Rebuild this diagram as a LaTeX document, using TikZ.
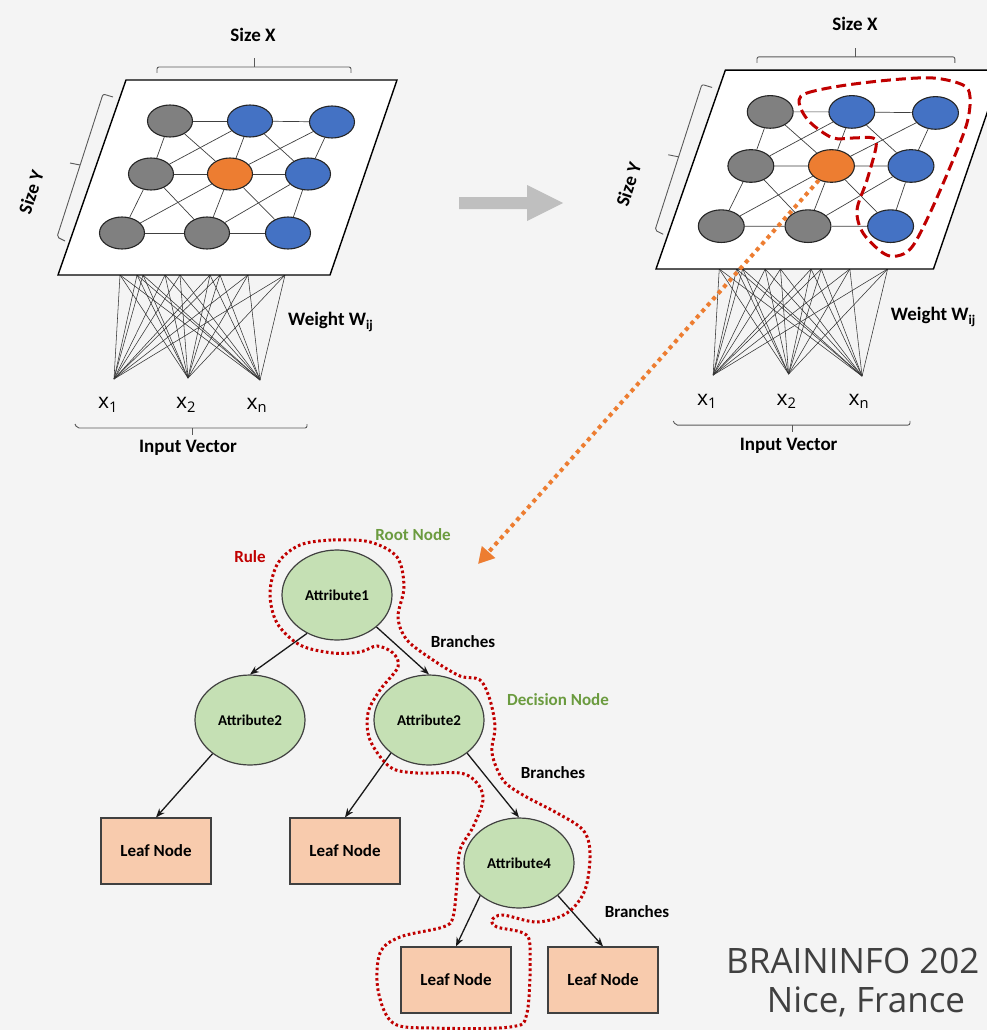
\documentclass[tikz,border=0pt]{standalone}
\usepackage{fontspec}
\setmainfont{Carlito}
\newfontfamily\segoe{Open Sans}
\usetikzlibrary{shapes.geometric,arrows.meta}
\definecolor{bgc}{HTML}{F4F4F4}
\definecolor{ngray}{HTML}{808080}
\definecolor{nblue}{HTML}{4472C4}
\definecolor{norange}{HTML}{ED7D31}
\definecolor{ngreen}{HTML}{C5E0B4}
\definecolor{nleaf}{HTML}{F8CBAD}
\definecolor{dred}{HTML}{C00000}
\definecolor{tgreen}{HTML}{6B9B3F}
\definecolor{tgray}{HTML}{404040}
\definecolor{agray}{HTML}{BFBFBF}
\tikzset{
  lat/.style={ellipse, draw=black!85, line width=1.1pt, minimum width=45pt, minimum height=32pt, inner sep=0pt, transform shape},
  gnode/.style={lat, fill=ngray},
  bnode/.style={lat, fill=nblue},
  onode/.style={lat, fill=norange},
  latedge/.style={draw=black!75, line width=0.7pt},
  wline/.style={draw=black!80, line width=0.55pt},
  plane/.style={draw=black, line width=1.4pt, fill=white},
  brace/.style={draw=black!65, line width=0.9pt, rounded corners=2pt},
  lbl/.style={font=\bfseries\fontsize{19}{21}\selectfont, text=black, inner sep=0pt},
  xlbl/.style={font=\segoe\fontsize{21}{24}\selectfont, text=black, inner sep=0pt},
  attr/.style={ellipse, draw=tgray, line width=1.2pt, fill=ngreen, minimum width=110pt, minimum height=90pt, inner sep=0pt, font=\bfseries\fontsize{15}{17}\selectfont},
  leaf/.style={rectangle, draw=tgray, line width=1.2pt, fill=nleaf, minimum width=110pt, minimum height=66pt, inner sep=0pt, font=\bfseries\fontsize{17}{19}\selectfont},
  tarrow/.style={draw=black!90, line width=1.3pt, -{Stealth[length=9pt,width=7pt]}},
  tlbl/.style={font=\bfseries\fontsize{17}{19}\selectfont, inner sep=0pt},
  rulepath/.style={draw=dred, line width=3pt, dash pattern=on 2.6pt off 2.6pt},
  somloop/.style={draw=dred, line width=3pt, dash pattern=on 10pt off 5pt},
  oarrow/.style={draw=norange, line width=4pt, dash pattern=on 4pt off 4.2pt, -{Triangle[length=16pt,width=17pt]}},
}
\newcommand\somnet{%
  \coordinate (i1) at (56,104);
  \coordinate (i2) at (130,103);
  \coordinate (i3) at (202,105);
  \foreach \xx [count=\kk] in {62,79,85,107,122,152,162,190,227}{\coordinate (t\kk) at (\xx,0);}
  \foreach \ii in {1,2,3}{\foreach \kk in {1,...,9}{\draw[wline] (i\ii) -- (t\kk);}}
  \draw[plane] (0,0) -- (272,0) -- (339,-195) -- (68,-195) -- cycle;
  \node[gnode] (a1) at (112,-154) {};
  \node[bnode] (a2) at (192,-154) {};
  \node[bnode] (a3) at (274,-153) {};
  \node[gnode] (b1) at (93,-101) {};
  \node[onode] (b2) at (172,-101) {};
  \node[bnode] (b3) at (250,-101) {};
  \node[gnode] (c1) at (64,-42) {};
  \node[gnode] (c2) at (149,-42) {};
  \node[bnode] (c3) at (230,-42) {};
  \foreach \p/\q in {a1/a2,a2/a3,b1/b2,b2/b3,c1/c2,c2/c3,a1/b1,a2/b2,a3/b3,b1/c1,b2/c2,b3/c3,a1/b2,a2/b1,a2/b3,a3/b2,b1/c2,b2/c1,b2/c3,b3/c2}{\draw[latedge] (\p) -- (\q);}
  % braces
  \draw[brace] (99,-202) -- (99,-208) -- (293,-208) -- (293,-202);
  \draw[brace] (196,-208) -- (196,-217);
  \draw[brace] (55,-178) -- (45,-181) -- (-1,-38) -- (7,-34);
  \draw[brace] (22,-110) -- (12,-112);
  \draw[brace] (17,149) -- (19,153) -- (249,153) -- (249,149);
  \draw[brace] (134,153) -- (134,160);
  % labels
  \node[lbl] (sx) at (195,-240) {Size X};
  \node[lbl, rotate=72] (sy) at (-27,-83) {Size Y};
  \node[lbl, anchor=west] (wt) at (230,47) {Weight W\textsubscript{ij}};
  \node[xlbl] (x1) at (50,130) {x\textsubscript{1}};
  \node[xlbl] (x2) at (128,130) {x\textsubscript{2}};
  \node[xlbl] (xn) at (199,130) {x\textsubscript{n}};
  \node[lbl] (iv) at (130,173) {Input Vector};
}
\begin{document}
\begin{tikzpicture}[x=1pt,y=-1pt]
\fill[bgc] (0,0) rectangle (987,1030);
\useasboundingbox (0,0) rectangle (987,1030);
% left SOM
\begin{scope}[shift={(58,275)}, name prefix=L-]
  \somnet
\end{scope}
% right SOM
\begin{scope}[shift={(656,269)}, scale=1.02, name prefix=R-]
  \somnet
\end{scope}
% gray arrow
\fill[agray] (459,197) -- (527,197) -- (527,185) -- (563,203) -- (527,221) -- (527,209) -- (459,209) -- cycle;
% red dashed cluster
\draw[somloop] plot[smooth cycle, tension=0.55] coordinates {(799,100) (807,93) (840,86) (890,80) (933,78) (963,85) (970,97) (967,123) (953,160) (930,213) (912,247) (897,256) (883,253) (863,233) (857,210) (867,180) (876,147) (873,138) (853,138) (833,138) (813,125) (803,113)};
% tree
\node[attr] (r) at (337,595) {Attribute1};
\node[attr] (dl) at (250,720) {Attribute2};
\node[attr] (dr) at (429,720) {Attribute2};
\node[attr] (d4) at (519,863) {Attribute4};
\node[leaf] (l1) at (156,851) {Leaf Node};
\node[leaf] (l2) at (345,851) {Leaf Node};
\node[leaf] (l3) at (456,980) {Leaf Node};
\node[leaf] (l4) at (603,980) {Leaf Node};
\draw[tarrow] (r.232) -- (dl.north);
\draw[tarrow] (r.321) -- (dr.north);
\draw[tarrow] (dl.222) -- (l1.north);
\draw[tarrow] (dr.221) -- (l2.north);
\draw[tarrow] (dr.319) -- (d4.north);
\draw[tarrow] (d4.220) -- (l3.north);
\draw[tarrow] (d4.320) -- (l4.north);
% rule path
\draw[rulepath] plot[smooth cycle, tension=0.55] coordinates {(300,545) (333,540) (370,542) (397,557) (404,587) (398,617) (407,640) (433,660) (460,676) (480,680) (490,700) (495,727) (492,753) (503,780) (523,795) (557,813) (583,830) (590,853) (585,890) (567,913) (537,922) (503,915) (492,920) (497,927) (523,933) (530,947) (527,1013) (510,1027) (433,1028) (393,1023) (378,990) (380,953) (400,937) (443,927) (453,917) (457,883) (460,850) (473,827) (483,800) (477,783) (460,773) (417,773) (390,767) (370,740) (368,713) (380,690) (398,667) (393,653) (377,646) (360,652) (333,653) (300,645) (277,623) (270,593) (278,563)};
% tree labels
\node[tlbl, text=tgreen] (rootlbl) at (413,535) {Root Node};
\node[tlbl, text=dred] (rulelbl) at (250,557) {Rule};
\node[tlbl] (br1) at (463,642) {Branches};
\node[tlbl, text=tgreen] (declbl) at (558,700) {Decision Node};
\node[tlbl] (br2) at (553,773) {Branches};
\node[tlbl] (br3) at (637,912) {Branches};
% orange link
\coordinate (otip) at (478,564);
\draw[oarrow] (R-b2) -- (otip);
% footer
\node[font=\segoe\fontsize{35}{40}\selectfont, text=tgray, anchor=west, inner sep=0pt] (conf) at (726,961) {BRAININFO 202};
\node[font=\segoe\fontsize{35}{40}\selectfont, text=tgray, inner sep=0pt] (city) at (866,1002) {Nice, France};
\end{tikzpicture}
\end{document}
